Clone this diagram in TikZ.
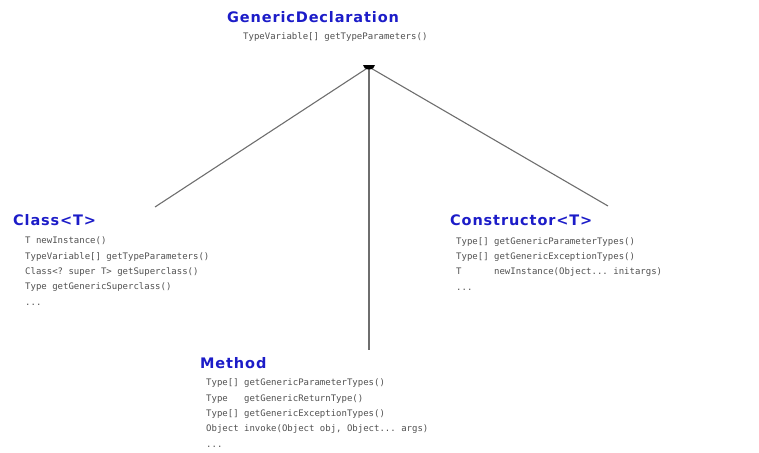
\documentclass[tikz,border=0pt]{standalone}
\usepackage{fontspec}
\setmonofont{DejaVu Sans Mono}
\newfontfamily\titlefont[LetterSpace=6.0]{DejaVu Sans}
\definecolor{declblue}{RGB}{28,28,200}
\definecolor{membergray}{RGB}{80,80,80}
\definecolor{linkgray}{RGB}{110,110,110}

\begin{document}
\begin{tikzpicture}[x=1pt,y=-1pt,
    title/.style={anchor=base west,inner sep=0pt,text=declblue,
        font={\titlefont\bfseries\fontsize{14.5}{16}\selectfont}},
    members/.style={anchor=base west,inner sep=0pt,text=membergray,align=left,
        font={\ttfamily\fontsize{9}{15.3}\selectfont}},
    link/.style={line width=1.1pt,linkgray}]
\useasboundingbox (0,0) rectangle (759,452);

% the interface
\node[title] (decl) at (227,23) {GenericDeclaration};
\node[members] (declbody) at (243,40) {TypeVariable[] getTypeParameters()};

% the three implementations (base = last line)
\node[title] (cls) at (13,225) {Class<T>};
\node[members] (clsbody) at (25,305) {T newInstance()\\
    TypeVariable[] getTypeParameters()\\
    Class<? super T> getSuperclass()\\
    Type getGenericSuperclass()\\
    ...};

\node[title] (ctor) at (450,225) {Constructor<T>};
\node[members] (ctorbody) at (456,290) {Type[] getGenericParameterTypes()\\
    Type[] getGenericExceptionTypes()\\
    T\ \ \ \ \ \ newInstance(Object... initargs)\\
    ...};

\node[title] (meth) at (200,368) {Method};
\node[members] (methbody) at (206,447) {Type[] getGenericParameterTypes()\\
    Type\ \ \ getGenericReturnType()\\
    Type[] getGenericExceptionTypes()\\
    Object invoke(Object obj, Object... args)\\
    ...};

\coordinate (top) at (369,67);
\coordinate (clsend) at (155,207);
\coordinate (ctorend) at (608,206);
\coordinate (methend) at (369,350);

\draw[link] (top)--(clsend);
\draw[link] (top)--(ctorend);
\draw[link] (top)--(methend);
\fill (363,65) arc[start angle=180,end angle=0,x radius=6,y radius=4.5]--cycle;

\end{tikzpicture}
\end{document}
